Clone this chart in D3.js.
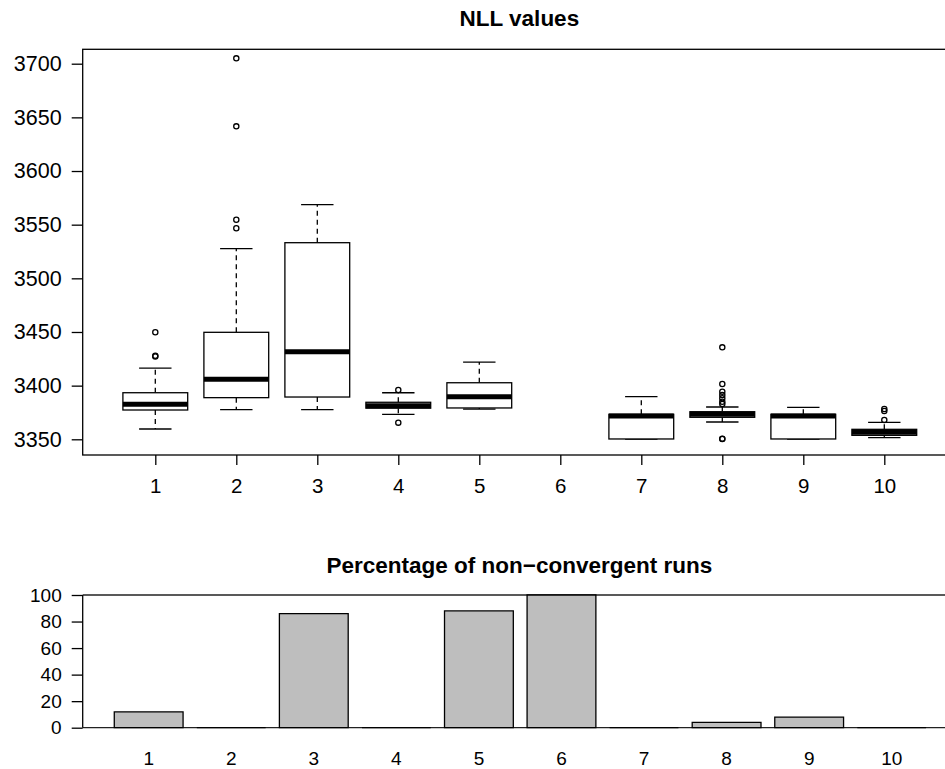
<!DOCTYPE html>
<html>
<head>
<meta charset="utf-8">
<script src="https://cdn.jsdelivr.net/npm/d3@7"></script>
<style>
  html, body { margin: 0; padding: 0; background: #fff; }
  svg { display: block; }
  text { font-family: "Liberation Sans", Arial, Helvetica, sans-serif; fill: #000; }
</style>
</head>
<body>
<script>
// ---------- data ----------
const categories = ["1","2","3","4","5","6","7","8","9","10"];
const nllLow    = [3359.6, 3377.6, 3377.6, 3373.3, 3378.2, null, 3350.3, 3366.1, 3350.3, 3351.5];
const nllQ1     = [3377.3, 3388.8, 3389.4, 3379.0, 3379.2, null, 3350.3, 3370.5, 3350.3, 3353.7];
const nllMedian = [3382.6, 3405.9, 3431.6, 3381.3, 3389.7, null, 3371.7, 3373.3, 3371.7, 3356.5];
const nllQ3     = [3393.4, 3449.7, 3533.2, 3384.5, 3402.7, null, 3373.3, 3375.7, 3373.3, 3359.3];
const nllHigh   = [3416.4, 3527.6, 3568.6, 3393.4, 3422.0, null, 3389.7, 3380.1, 3379.8, 3365.8];
const nllOutliers = [
  [3427.2, 3427.8, 3449.7],
  [3546.6, 3554.6, 3641.6, 3705.0],
  [],
  [3395.9, 3365.5],
  [],
  [],
  [],
  [3435.7, 3401.5, 3394.4, 3391.3, 3388.2, 3385.0, 3382.9, 3350.3, 3350.6],
  [],
  [3378.2, 3376.4, 3368.0]
];
const nllTicks = [3350, 3400, 3450, 3500, 3550, 3600, 3650, 3700];
const nonConvPct = [12, 0, 86, 0, 88, 100, 0, 4, 8, 0];
const pctTicks = [0, 20, 40, 60, 80, 100];
const titleTop = "NLL values";
const titleBottom = "Percentage of non\u2212convergent runs";

// ---------- layout ----------
const W = 945, H = 769;
const svg = d3.select("body").append("svg").attr("width", W).attr("height", H);

const lw = 1.3;

// ===== top panel: boxplots =====
const topP = { left: 82.7, right: 956, top: 49.3, bottom: 455 };
const x1 = d3.scaleLinear().domain([1, 10]).range([155.3, 884.3]);
const y1 = d3.scaleLinear().domain([3350, 3700]).range([439.3, 63.7]);
const step = x1(2) - x1(1);
const boxW = step * 0.8;

const gTop = svg.append("g");

// frame
gTop.append("rect")
  .attr("x", topP.left).attr("y", topP.top)
  .attr("width", topP.right - topP.left).attr("height", topP.bottom - topP.top)
  .attr("fill", "none").attr("stroke", "#000").attr("stroke-width", lw);

// y axis
const yAxis1 = d3.axisLeft(y1).tickValues(nllTicks).tickSize(11).tickPadding(10).tickFormat(d3.format("d"));
const gy1 = gTop.append("g").attr("transform", `translate(${topP.left},0)`).call(yAxis1);
gy1.select(".domain").remove();
gy1.selectAll("line").attr("stroke", "#000").attr("stroke-width", lw);
gy1.selectAll("text").style("font-size", "21.5px").attr("font-family", null).attr("fill", "#000");

// x axis
const xAxis1 = d3.axisBottom(x1).tickValues(d3.range(1, 11)).tickSize(10).tickPadding(13)
  .tickFormat((d) => categories[d - 1]);
const gx1 = gTop.append("g").attr("transform", `translate(0,${topP.bottom})`).call(xAxis1);
gx1.select(".domain").remove();
gx1.selectAll("line").attr("stroke", "#000").attr("stroke-width", lw);
gx1.selectAll("text").style("font-size", "20.5px").attr("font-family", null).attr("fill", "#000");

// boxes
categories.forEach((c, i) => {
  if (nllMedian[i] == null) {
    return;
  }
  const cx = x1(i + 1);
  const g = gTop.append("g");
  // whiskers (dashed)
  g.append("line").attr("x1", cx).attr("x2", cx).attr("y1", y1(nllQ3[i])).attr("y2", y1(nllHigh[i]))
    .attr("stroke", "#000").attr("stroke-width", lw).attr("stroke-dasharray", "5,4");
  g.append("line").attr("x1", cx).attr("x2", cx).attr("y1", y1(nllQ1[i])).attr("y2", y1(nllLow[i]))
    .attr("stroke", "#000").attr("stroke-width", lw).attr("stroke-dasharray", "5,4");
  // caps
  [nllHigh[i], nllLow[i]].forEach((v) => {
    g.append("line").attr("x1", cx - boxW / 4).attr("x2", cx + boxW / 4)
      .attr("y1", y1(v)).attr("y2", y1(v))
      .attr("stroke", "#000").attr("stroke-width", lw);
  });
  // box
  g.append("rect").attr("x", cx - boxW / 2).attr("width", boxW)
    .attr("y", y1(nllQ3[i])).attr("height", Math.max(0, y1(nllQ1[i]) - y1(nllQ3[i])))
    .attr("fill", "#fff").attr("stroke", "#000").attr("stroke-width", lw);
  // median
  g.append("line").attr("x1", cx - boxW / 2).attr("x2", cx + boxW / 2)
    .attr("y1", y1(nllMedian[i])).attr("y2", y1(nllMedian[i]))
    .attr("stroke", "#000").attr("stroke-width", 5);
  // outliers
  g.selectAll("circle").data(nllOutliers[i]).enter().append("circle")
    .attr("cx", cx).attr("cy", (d) => y1(d)).attr("r", 2.6)
    .attr("fill", "none").attr("stroke", "#000").attr("stroke-width", lw);
});

// title
svg.append("text").attr("x", (topP.left + topP.right) / 2).attr("y", 26)
  .attr("text-anchor", "middle").style("font-size", "22.5px").style("font-weight", "bold")
  .text(titleTop);

// ===== bottom panel: bars =====
const botP = { left: 82.7, right: 956 };
const y2 = d3.scaleLinear().domain([0, 100]).range([727.7, 595]);
const x2 = d3.scaleBand().domain(categories).range([107.4, 107.4 + 10 * 82.56])
  .paddingInner(0.1667).paddingOuter(0.0833);

const gBot = svg.append("g");

// reference lines at 0 and 100
[0, 100].forEach((v) => {
  gBot.append("line").attr("x1", botP.left).attr("x2", botP.right)
    .attr("y1", y2(v)).attr("y2", y2(v))
    .attr("stroke", "#222").attr("stroke-width", lw);
});

// bars
gBot.selectAll("path.bar").data(nonConvPct).enter().append("path")
  .attr("class", "bar")
  .attr("d", (d, i) => {
    const xa = x2(categories[i]);
    const xb = xa + x2.bandwidth();
    const y0 = y2(0), yv = y2(d);
    return `M${xa},${y0}V${yv}H${xb}V${y0}Z`;
  })
  .attr("fill", "#bebebe").attr("stroke", "#000").attr("stroke-width", lw);

// y axis
const yAxis2 = d3.axisLeft(y2).tickValues(pctTicks).tickSize(11).tickPadding(10);
const gy2 = gBot.append("g").attr("transform", `translate(${botP.left},0)`).call(yAxis2);
gy2.select(".domain").attr("d", `M0,${y2(0)}V${y2(100)}`).attr("stroke", "#000").attr("stroke-width", lw);
gy2.selectAll("line").attr("stroke", "#000").attr("stroke-width", lw);
gy2.selectAll("text").style("font-size", "19px").attr("font-family", null).attr("fill", "#000");

// x labels (no axis line)
const xAxis2 = d3.axisBottom(x2).tickSize(0).tickPadding(24);
const gx2 = gBot.append("g").attr("transform", `translate(0,${y2(0)})`).call(xAxis2);
gx2.select(".domain").remove();
gx2.selectAll("text").style("font-size", "19px").attr("font-family", null).attr("fill", "#000");

// title
svg.append("text").attr("x", (botP.left + botP.right) / 2).attr("y", 573)
  .attr("text-anchor", "middle").style("font-size", "22.5px").style("font-weight", "bold")
  .text(titleBottom);
</script>
</body>
</html>
